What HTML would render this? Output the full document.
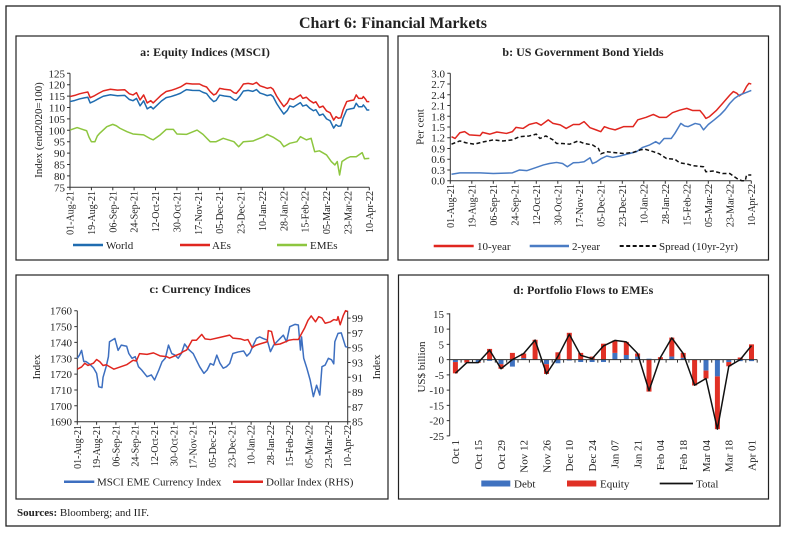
<!DOCTYPE html>
<html><head><meta charset="utf-8"><style>
html,body{margin:0;padding:0;background:#fff;}
svg{display:block;font-family:"Liberation Serif",serif;}
.t{font-size:11px;fill:#222;}
.xl{font-size:10px;fill:#222;}
.ti{font-size:12px;font-weight:bold;fill:#222;}
.ax{stroke:#333;stroke-width:1;fill:none;}
.ln{fill:none;stroke-width:1.5;vector-effect:non-scaling-stroke;stroke-linejoin:round;}
</style></head><body>
<svg width="787" height="533" viewBox="0 0 787 533" xmlns="http://www.w3.org/2000/svg">
<rect x="6" y="6" width="774" height="520" fill="none" stroke="#222" stroke-width="1.3"/>
<text x="393" y="28" text-anchor="middle" style="font-size:16px;font-weight:bold;fill:#222">Chart 6: Financial Markets</text>

<!-- Panel boxes -->
<rect x="16" y="36" width="372" height="224" fill="none" stroke="#222" stroke-width="1.2"/>
<rect x="398" y="36" width="370.5" height="224" fill="none" stroke="#222" stroke-width="1.2"/>
<rect x="16" y="275" width="372" height="224" fill="none" stroke="#222" stroke-width="1.2"/>
<rect x="398.5" y="275" width="370" height="224" fill="none" stroke="#222" stroke-width="1.2"/>

<!-- ============ PANEL A ============ -->
<text class="ti" x="205" y="56" text-anchor="middle">a: Equity Indices (MSCI)</text>
<g class="ax">
<path d="M70,73.3V187.3H369.3"/>
<path d="M67,73.3h3M67,84.7h3M67,96.1h3M67,107.5h3M67,118.9h3M67,130.3h3M67,141.7h3M67,153.1h3M67,164.5h3M67,175.9h3M67,187.3h3"/>
<path d="M70,187.3v3M91.4,187.3v3M112.8,187.3v3M134.1,187.3v3M155.5,187.3v3M176.9,187.3v3M198.3,187.3v3M219.7,187.3v3M241,187.3v3M262.4,187.3v3M283.8,187.3v3M305.2,187.3v3M326.6,187.3v3M347.9,187.3v3M369.3,187.3v3"/>
</g>
<g class="t" text-anchor="end">
<text x="65" y="77.3">125</text><text x="65" y="88.7">120</text><text x="65" y="100.1">115</text><text x="65" y="111.5">110</text><text x="65" y="122.9">105</text><text x="65" y="134.3">100</text><text x="65" y="145.7">95</text><text x="65" y="157.1">90</text><text x="65" y="168.5">85</text><text x="65" y="179.9">80</text><text x="65" y="191.3">75</text>
</g>
<g class="xl" text-anchor="end">
<text transform="translate(73.5,191) rotate(-90)">01-Aug-21</text>
<text transform="translate(94.9,191) rotate(-90)">19-Aug-21</text>
<text transform="translate(116.3,191) rotate(-90)">06-Sep-21</text>
<text transform="translate(137.6,191) rotate(-90)">24-Sep-21</text>
<text transform="translate(159,191) rotate(-90)">12-Oct-21</text>
<text transform="translate(180.4,191) rotate(-90)">30-Oct-21</text>
<text transform="translate(201.8,191) rotate(-90)">17-Nov-21</text>
<text transform="translate(223.2,191) rotate(-90)">05-Dec-21</text>
<text transform="translate(244.5,191) rotate(-90)">23-Dec-21</text>
<text transform="translate(265.9,191) rotate(-90)">10-Jan-22</text>
<text transform="translate(287.3,191) rotate(-90)">28-Jan-22</text>
<text transform="translate(308.7,191) rotate(-90)">15-Feb-22</text>
<text transform="translate(330.1,191) rotate(-90)">05-Mar-22</text>
<text transform="translate(351.4,191) rotate(-90)">23-Mar-22</text>
<text transform="translate(372.8,191) rotate(-90)">10-Apr-22</text>
</g>
<text class="t" transform="translate(42,130) rotate(-90)" text-anchor="middle">Index (end2020=100)</text>
<!-- World (blue) - same shape as AEs shifted -->
<g transform="matrix(1.1877,0.01368,0,-2.28,70,363.3)">
<polyline class="ln" stroke="#1f6cb0" points="0,114.8 4,115.3 8,116 12,116.5 15,116.8 17,114.3 20,115 24,116.2 28,117.3 34,118 40,117.6 46,117.8 50,116 53,115.5 56,116.5 59,113.3 62,115.5 65,112 68,113 70,112 73,113.5 77,115.5 81,117 85,117.5 89,118.2 93,119 96,120 98,120.6 103,120.3 109,120.3 112,119.5 115,119 118,117 121,115.5 123,116 126,118.4 130,118 135,117.7 138,116.5 140,116.2 143,118 146,120.3 150,120.6 154,120.2 157,121 160,119.5 163,119 166,118.4 169,118.8 171,118 174,115 177,112.6 180,110.4 183,112 185,114 188,113.5 191,114.5 194,115.5 196,114 199,114.5 202,113 205,112 207,112.5 210,110 213,110.6 216,108.5 219,107.7 222,104.5 224,106 226,105.3 228,105.5 230,109 233,112.6 236,113 239,113.3 241,115.5 243,114 246,114 247,114.8 249,113.5 250,112.6 252,112.6"/>
</g>
<g transform="matrix(1.1877,0,0,-2.28,70,358.3)">
<polyline class="ln" stroke="#e0261f" points="0,114.8 4,115.3 8,116 12,116.5 15,116.8 17,114.3 20,115 24,116.2 28,117.3 34,118 40,117.6 46,117.8 50,116 53,115.5 56,116.5 59,113.3 62,115.5 65,112 68,113 70,112 73,113.5 77,115.5 81,117 85,117.5 89,118.2 93,119 96,120 98,120.6 103,120.3 109,120.3 112,119.5 115,119 118,117 121,115.5 123,116 126,118.4 130,118 135,117.7 138,116.5 140,116.2 143,118 146,120.3 150,120.6 154,120.2 157,121 160,119.5 163,119 166,118.4 169,118.8 171,118 174,115 177,112.6 180,110.4 183,112 185,114 188,113.5 191,114.5 194,115.5 196,114 199,114.5 202,113 205,112 207,112.5 210,110 213,110.6 216,108.5 219,107.7 222,104.5 224,106 226,105.3 228,105.5 230,109 233,112.6 236,113 239,113.3 241,115.5 243,114 246,114 247,114.8 249,113.5 250,112.6 252,112.6"/>
<polyline class="ln" stroke="#8dc63f" points="0,100.1 6,101.2 10,100.5 14,99.8 16,97 18,95 21,95 23,97.5 25,98.7 31,101.6 36,102.6 39,102 42,100.9 48,99.4 53,98.4 62,98 67,96.5 70,95.8 76,98 81,100.4 87,100.4 90,98.4 98,98.2 107,100.1 112,98.2 118,95 123,95 129,96.5 138,95 142,92.8 146,95 154,95.3 163,97.2 166,98.2 171,97 177,95 180,92.8 185,94.3 191,95 194,97.2 199,95.8 203,96.5 206,90.6 210,91 216,89.2 220,86.3 223,84.8 225,86.3 227,80.4 229,86.3 233,87.7 236,88.4 241,88.4 246,90.2 248,87.5 252,87.7"/>
</g>
<line x1="73" y1="245" x2="103" y2="245" stroke="#1f6cb0" stroke-width="2.5"/>
<text class="t" x="106" y="249">World</text>
<line x1="180" y1="245" x2="210" y2="245" stroke="#e0261f" stroke-width="2.5"/>
<text class="t" x="212" y="249">AEs</text>
<line x1="277" y1="245" x2="307" y2="245" stroke="#8dc63f" stroke-width="2.5"/>
<text class="t" x="310" y="249">EMEs</text>

<!-- ============ PANEL B ============ -->
<text class="ti" x="583" y="56" text-anchor="middle">b: US Government Bond Yields</text>
<g class="ax">
<path d="M450.3,73.3V180.7H751.3"/>
<path d="M447.3,73.3h3M447.3,84.04h3M447.3,94.78h3M447.3,105.52h3M447.3,116.26h3M447.3,127h3M447.3,137.74h3M447.3,148.48h3M447.3,159.22h3M447.3,169.96h3M447.3,180.7h3"/>
<path d="M450.3,180.7v3M471.8,180.7v3M493.3,180.7v3M514.8,180.7v3M536.3,180.7v3M557.8,180.7v3M579.3,180.7v3M600.8,180.7v3M622.3,180.7v3M643.8,180.7v3M665.3,180.7v3M686.8,180.7v3M708.3,180.7v3M729.8,180.7v3M751.3,180.7v3"/>
</g>
<g class="t" text-anchor="end">
<text x="445" y="77.3">3.0</text><text x="445" y="88">2.7</text><text x="445" y="98.8">2.4</text><text x="445" y="109.5">2.1</text><text x="445" y="120.3">1.8</text><text x="445" y="131">1.5</text><text x="445" y="141.7">1.2</text><text x="445" y="152.5">0.9</text><text x="445" y="163.2">0.6</text><text x="445" y="174">0.3</text><text x="445" y="184.7">0.0</text>
</g>
<g class="xl" text-anchor="end">
<text transform="translate(453.8,184) rotate(-90)">01-Aug-21</text>
<text transform="translate(475.3,184) rotate(-90)">19-Aug-21</text>
<text transform="translate(496.8,184) rotate(-90)">06-Sep-21</text>
<text transform="translate(518.3,184) rotate(-90)">24-Sep-21</text>
<text transform="translate(539.8,184) rotate(-90)">12-Oct-21</text>
<text transform="translate(561.3,184) rotate(-90)">30-Oct-21</text>
<text transform="translate(582.8,184) rotate(-90)">17-Nov-21</text>
<text transform="translate(604.3,184) rotate(-90)">05-Dec-21</text>
<text transform="translate(625.8,184) rotate(-90)">23-Dec-21</text>
<text transform="translate(647.3,184) rotate(-90)">10-Jan-22</text>
<text transform="translate(668.8,184) rotate(-90)">28-Jan-22</text>
<text transform="translate(690.3,184) rotate(-90)">15-Feb-22</text>
<text transform="translate(711.8,184) rotate(-90)">05-Mar-22</text>
<text transform="translate(733.3,184) rotate(-90)">23-Mar-22</text>
<text transform="translate(754.8,184) rotate(-90)">10-Apr-22</text>
</g>
<text class="t" transform="translate(423.5,127) rotate(-90)" text-anchor="middle">Per cent</text>
<g transform="matrix(1.1944,0,0,-35.8,450.3,180.7)">
<polyline class="ln" stroke="#e0261f" points="1,1.23 4,1.18 8,1.34 12,1.37 16,1.28 25,1.26 27,1.35 33,1.3 39,1.36 47,1.32 52,1.37 55,1.49 61,1.46 66,1.57 72,1.62 76,1.55 82,1.7 86,1.6 92,1.56 97,1.46 103,1.57 108,1.57 112,1.65 117,1.48 122,1.42 126,1.37 129,1.51 133,1.46 138,1.42 145,1.51 153,1.51 157,1.7 164,1.77 170,1.85 175,1.77 181,1.77 186,1.9 192,1.97 198,2.02 203,1.96 209,1.96 212,1.84 214,1.74 217,1.79 223,1.97 228,2.16 234,2.39 237,2.49 240,2.44 242,2.37 245,2.44 248,2.63 250,2.72 252,2.7"/>
<polyline class="ln" stroke="#4a7cc4" points="1,0.18 8,0.22 25,0.22 36,0.2 52,0.22 58,0.3 64,0.28 72,0.37 78,0.44 83,0.48 89,0.51 94,0.48 98,0.39 103,0.5 108,0.51 112,0.53 117,0.64 119,0.48 122,0.52 126,0.61 131,0.69 136,0.65 142,0.69 150,0.76 156,0.81 161,0.93 167,1 172,1.09 175,1.03 179,1.18 185,1.18 188,1.32 193,1.6 196,1.53 199,1.51 205,1.6 209,1.57 212,1.42 216,1.57 221,1.7 226,1.84 230,1.98 234,2.16 238,2.3 242,2.39 246,2.44 252,2.52"/>
<polyline class="ln" stroke="#111" stroke-dasharray="4,2.5" points="1,1.02 4,1.06 8,1.11 13,1.06 20,1.02 27,1.08 36,1.14 44,1.11 52,1.14 58,1.23 66,1.25 72,1.3 75,1.18 80,1.25 86,1.14 89,1.04 94,1.04 100,1.02 107,1.11 112,1.04 119,1 124,0.9 126,0.75 131,0.81 136,0.79 145,0.76 153,0.79 159,0.86 163,0.88 170,0.81 175,0.75 181,0.62 188,0.6 192,0.5 198,0.47 203,0.42 212,0.39 214,0.25 220,0.27 228,0.2 234,0.2 240,0.06 244,0 247,0 248,0.16 252,0.16"/>
</g>
<line x1="433.7" y1="246" x2="473.7" y2="246" stroke="#e0261f" stroke-width="2.5"/>
<text class="t" x="477" y="250">10-year</text>
<line x1="529.7" y1="246" x2="569" y2="246" stroke="#4a7cc4" stroke-width="2.5"/>
<text class="t" x="572" y="250">2-year</text>
<line x1="619.7" y1="246" x2="656.3" y2="246" stroke="#111" stroke-width="2" stroke-dasharray="4,2.5"/>
<text class="t" x="659" y="250">Spread (10yr-2yr)</text>

<!-- ============ PANEL C ============ -->
<text class="ti" x="200" y="293" text-anchor="middle">c: Currency Indices</text>
<g class="ax">
<path d="M77.3,310.7V421.7H347.7V310.7"/>
<path d="M74.3,310.7h3M74.3,326.6h3M74.3,342.4h3M74.3,358.3h3M74.3,374.1h3M74.3,390h3M74.3,405.8h3M74.3,421.7h3"/>
<path d="M347.7,318.1h3M347.7,332.9h3M347.7,347.7h3M347.7,362.5h3M347.7,377.3h3M347.7,392.1h3M347.7,406.9h3M347.7,421.7h3"/>
<path d="M77.3,421.7v3M96.6,421.7v3M115.9,421.7v3M135.2,421.7v3M154.5,421.7v3M173.9,421.7v3M193.2,421.7v3M212.5,421.7v3M231.8,421.7v3M251.1,421.7v3M270.4,421.7v3M289.7,421.7v3M309,421.7v3M328.4,421.7v3M347.7,421.7v3"/>
</g>
<g class="t" text-anchor="end">
<text x="72" y="314.7">1760</text><text x="72" y="330.6">1750</text><text x="72" y="346.4">1740</text><text x="72" y="362.3">1730</text><text x="72" y="378.1">1720</text><text x="72" y="394">1710</text><text x="72" y="409.8">1700</text><text x="72" y="425.7">1690</text>
</g>
<g class="t">
<text x="352" y="322.1">99</text><text x="352" y="336.9">97</text><text x="352" y="351.7">95</text><text x="352" y="366.5">93</text><text x="352" y="381.3">91</text><text x="352" y="396.1">89</text><text x="352" y="410.9">87</text><text x="352" y="425.7">85</text>
</g>
<g class="xl" text-anchor="end">
<text transform="translate(80.8,425) rotate(-90)">01-Aug-21</text>
<text transform="translate(100.1,425) rotate(-90)">19-Aug-21</text>
<text transform="translate(119.4,425) rotate(-90)">06-Sep-21</text>
<text transform="translate(138.7,425) rotate(-90)">24-Sep-21</text>
<text transform="translate(158,425) rotate(-90)">12-Oct-21</text>
<text transform="translate(177.4,425) rotate(-90)">30-Oct-21</text>
<text transform="translate(196.7,425) rotate(-90)">17-Nov-21</text>
<text transform="translate(216,425) rotate(-90)">05-Dec-21</text>
<text transform="translate(235.3,425) rotate(-90)">23-Dec-21</text>
<text transform="translate(254.6,425) rotate(-90)">10-Jan-22</text>
<text transform="translate(273.9,425) rotate(-90)">28-Jan-22</text>
<text transform="translate(293.2,425) rotate(-90)">15-Feb-22</text>
<text transform="translate(312.5,425) rotate(-90)">05-Mar-22</text>
<text transform="translate(331.9,425) rotate(-90)">23-Mar-22</text>
<text transform="translate(351.2,425) rotate(-90)">10-Apr-22</text>
</g>
<text class="t" transform="translate(40,367) rotate(-90)" text-anchor="middle">Index</text>
<text class="t" transform="translate(380,367) rotate(-90)" text-anchor="middle">Index</text>
<g transform="matrix(1.073,0,0,-1.5857,77.3,421.7)">
<polyline class="ln" stroke="#3d6fc0" points="0,40 2,42 4,45 6,38 8,38 12,36 15,34 18,30.5 20,22 23,21.5 24,28 27,35 29,41 30,50.4 35,52.5 38,45 41,48.3 46,47.6 48,43 51,40 54,41 57,34.7 60,32.6 65,28.4 69,29.5 72,26.3 76,32.6 79,37.8 82,40 85,48.3 88,43 91,42 94,40 97,43 100,49 104,45.4 108,43 111,38.8 114,34.7 118,30.5 121,32.6 124,36.7 127,35.7 130,42 133,36.8 136,33.7 139,34.7 142,36.7 145,43 150,44 155,44.6 158,41.4 161,43.5 164,48.3 167,52.5 170,53.5 173,52.5 177,51.5 180,44.2 183,48.3 186,50.4 189,52.5 192,54.6 195,50.4 198,59.9 203,61.4 206,61 208,45.2 209,53.5 211,40 214,33.6 217,26.3 220,15.8 223,23 226,16.8 228,34.7 231,35.7 234,40 237,39 239,36.5 240,50.4 243,55.7 246,56 250,47.3 252,47"/>
</g>
<g transform="matrix(1.073,0,0,-7.4,77.3,421.7)">
<polyline class="ln" stroke="#e0261f" points="0,7.1 4,7.4 7,7.9 10,7.6 15,7.9 18,8.4 21,8.1 24,7.6 27,7.7 34,7.1 40,7.4 46,7.7 52,8.3 55,8.2 58,9.2 65,9.1 71,9.3 77,8.9 83,8.8 86,8.6 91,8.9 96,9.2 99,9.5 102,9.7 107,11 111,11 116,11.8 119,11.2 124,11.1 133,11.4 136,11.5 142,11.7 145,11.3 152,11.2 156,11 159,11.1 163,10 166,10.3 170,10.5 177,10.8 178,12.3 181,12.2 184,10.4 189,10.5 194,10.8 197,11 201,11.1 206,11.1 209,11.9 212,12.7 215,13.7 218,14.3 222,13.5 225,14.2 228,14 231,13.3 236,13.5 239,13.8 242,13.7 243,14.2 245,13.1 248,14.4 250,15 252,14.9"/>
</g>
<line x1="64" y1="481.7" x2="94.3" y2="481.7" stroke="#3d6fc0" stroke-width="2.5"/>
<text class="t" x="97" y="485.7">MSCI EME Currency Index</text>
<line x1="233" y1="481.7" x2="263" y2="481.7" stroke="#e0261f" stroke-width="2.5"/>
<text class="t" x="266" y="485.7">Dollar Index (RHS)</text>

<!-- ============ PANEL D ============ -->
<text class="ti" x="583.3" y="294" text-anchor="middle">d: Portfolio Flows to EMEs</text>
<g class="ax">
<path d="M449.7,313.3V435.8"/>
<path d="M446.7,313.85h3M446.7,329.1h3M446.7,344.35h3M446.7,359.6h3M446.7,374.85h3M446.7,390.1h3M446.7,405.35h3M446.7,420.6h3M446.7,435.85h3"/>
</g>
<g class="t" text-anchor="end">
<text x="444" y="317.85">15</text><text x="444" y="333.1">10</text><text x="444" y="348.35">5</text><text x="444" y="363.6">0</text><text x="444" y="378.85">-5</text><text x="444" y="394.1">-10</text><text x="444" y="409.35">-15</text><text x="444" y="424.6">-20</text><text x="444" y="439.85">-25</text>
</g>
<text class="t" transform="translate(425,367) rotate(-90)" text-anchor="middle">US$ billion</text>
<!-- debt bars -->
<g fill="#3f72c0">
<rect x="452.9" y="359.6" width="5" height="2.44"/>
<rect x="475.7" y="359.6" width="5" height="2.44"/>
<rect x="487.1" y="359.6" width="5" height="1.22"/>
<rect x="498.5" y="359.6" width="5" height="4.58"/>
<rect x="509.9" y="359.6" width="5" height="7"/>
<rect x="521.2" y="358.1" width="5" height="1.53"/>
<rect x="544" y="359.6" width="5" height="4.58"/>
<rect x="555.4" y="359.6" width="5" height="3.66"/>
<rect x="566.8" y="359.6" width="5" height="0.92"/>
<rect x="578.2" y="359.6" width="5" height="2.44"/>
<rect x="589.6" y="359.6" width="5" height="2.44"/>
<rect x="601" y="359.6" width="5" height="2.44"/>
<rect x="612.4" y="352.9" width="5" height="6.71"/>
<rect x="623.8" y="355" width="5" height="4.58"/>
<rect x="635.1" y="356.55" width="5" height="3.05"/>
<rect x="646.5" y="358.7" width="5" height="0.92"/>
<rect x="669.3" y="356.55" width="5" height="3.05"/>
<rect x="680.7" y="357.8" width="5" height="1.83"/>
<rect x="703.5" y="359.6" width="5" height="10.98"/>
<rect x="714.9" y="359.6" width="5" height="16.78"/>
<rect x="726.3" y="359.6" width="5" height="2.44"/>
<rect x="737.7" y="359.6" width="5" height="1.53"/>
<rect x="749" y="359.6" width="5" height="1.53"/>
</g>
<!-- equity bars -->
<g fill="#e03025">
<rect x="452.9" y="362.04" width="5" height="11.29"/>
<rect x="464.3" y="359.6" width="5" height="3.05"/>
<rect x="475.7" y="362.04" width="5" height="0.8"/>
<rect x="487.1" y="348.9" width="5" height="10.7"/>
<rect x="498.5" y="364.2" width="5" height="4.58"/>
<rect x="509.9" y="352.9" width="5" height="6.71"/>
<rect x="521.2" y="353.5" width="5" height="4.58"/>
<rect x="532.6" y="339.8" width="5" height="19.8"/>
<rect x="544" y="364.2" width="5" height="9.76"/>
<rect x="555.4" y="352.3" width="5" height="7.32"/>
<rect x="566.8" y="332.8" width="5" height="26.84"/>
<rect x="578.2" y="352.9" width="5" height="6.71"/>
<rect x="589.6" y="356.55" width="5" height="3.05"/>
<rect x="601" y="343.7" width="5" height="15.86"/>
<rect x="612.4" y="340.4" width="5" height="12.5"/>
<rect x="623.8" y="341.9" width="5" height="13.1"/>
<rect x="635.1" y="353.5" width="5" height="3.05"/>
<rect x="646.5" y="359.6" width="5" height="32"/>
<rect x="657.9" y="357.2" width="5" height="2.44"/>
<rect x="669.3" y="337.6" width="5" height="18.9"/>
<rect x="680.7" y="352.9" width="5" height="4.88"/>
<rect x="692.1" y="359.6" width="5" height="25.9"/>
<rect x="703.5" y="370.6" width="5" height="7.93"/>
<rect x="714.9" y="376.4" width="5" height="52.77"/>
<rect x="726.3" y="362.04" width="5" height="4.27"/>
<rect x="737.7" y="357.5" width="5" height="2.14"/>
<rect x="749" y="344.35" width="5" height="15.25"/>
</g>
<g class="ax">
<path d="M449.7,359.6H757.2"/>
<path d="M461.1,359.6v3M472.5,359.6v3M483.9,359.6v3M495.3,359.6v3M506.7,359.6v3M518.0,359.6v3M529.4,359.6v3M540.8,359.6v3M552.2,359.6v3M563.6,359.6v3M575.0,359.6v3M586.4,359.6v3M597.8,359.6v3M609.2,359.6v3M620.6,359.6v3M631.9,359.6v3M643.3,359.6v3M654.7,359.6v3M666.1,359.6v3M677.5,359.6v3M688.9,359.6v3M700.3,359.6v3M711.7,359.6v3M723.1,359.6v3M734.5,359.6v3M745.8,359.6v3M757.2,359.6v3"/>
</g>
<polyline fill="none" stroke="#111" stroke-width="1.5" stroke-linejoin="round" points="455.4,373.3 466.8,362.65 478.2,362.65 489.6,350.1 501,368.75 512.4,359.6 523.7,353.5 535.1,340.1 546.5,373.9 557.9,356.55 569.3,334.3 580.7,355.3 592.1,358.7 603.5,345.9 614.9,340.4 626.3,341.9 637.6,353.5 649,390.7 660.4,357.5 671.8,337.9 683.2,353.5 694.6,385.2 706,378.5 717.4,429.1 728.8,366.3 740.2,359.6 751.5,345.6"/>
<g class="t" text-anchor="end">
<text transform="translate(459.2,440) rotate(-90)">Oct 1</text>
<text transform="translate(482,440) rotate(-90)">Oct 15</text>
<text transform="translate(504.8,440) rotate(-90)">Oct 29</text>
<text transform="translate(527.5,440) rotate(-90)">Nov 12</text>
<text transform="translate(550.3,440) rotate(-90)">Nov 26</text>
<text transform="translate(573.1,440) rotate(-90)">Dec 10</text>
<text transform="translate(595.9,440) rotate(-90)">Dec 24</text>
<text transform="translate(618.7,440) rotate(-90)">Jan 07</text>
<text transform="translate(641.4,440) rotate(-90)">Jan 21</text>
<text transform="translate(664.2,440) rotate(-90)">Feb 04</text>
<text transform="translate(687,440) rotate(-90)">Feb 18</text>
<text transform="translate(709.8,440) rotate(-90)">Mar 04</text>
<text transform="translate(732.6,440) rotate(-90)">Mar 18</text>
<text transform="translate(755.3,440) rotate(-90)">Apr 01</text>
</g>
<rect x="481.3" y="480.5" width="29" height="6" fill="#3f72c0"/>
<text class="t" x="514" y="487.5">Debt</text>
<rect x="567" y="480.5" width="29.3" height="6" fill="#e03025"/>
<text class="t" x="600" y="487.5">Equity</text>
<line x1="659.7" y1="483.5" x2="693" y2="483.5" stroke="#111" stroke-width="1.8"/>
<text class="t" x="696" y="487.5">Total</text>

<!-- Sources -->
<text class="t" x="17" y="516"><tspan font-weight="bold">Sources:</tspan> Bloomberg; and IIF.</text>
</svg>
</body></html>
